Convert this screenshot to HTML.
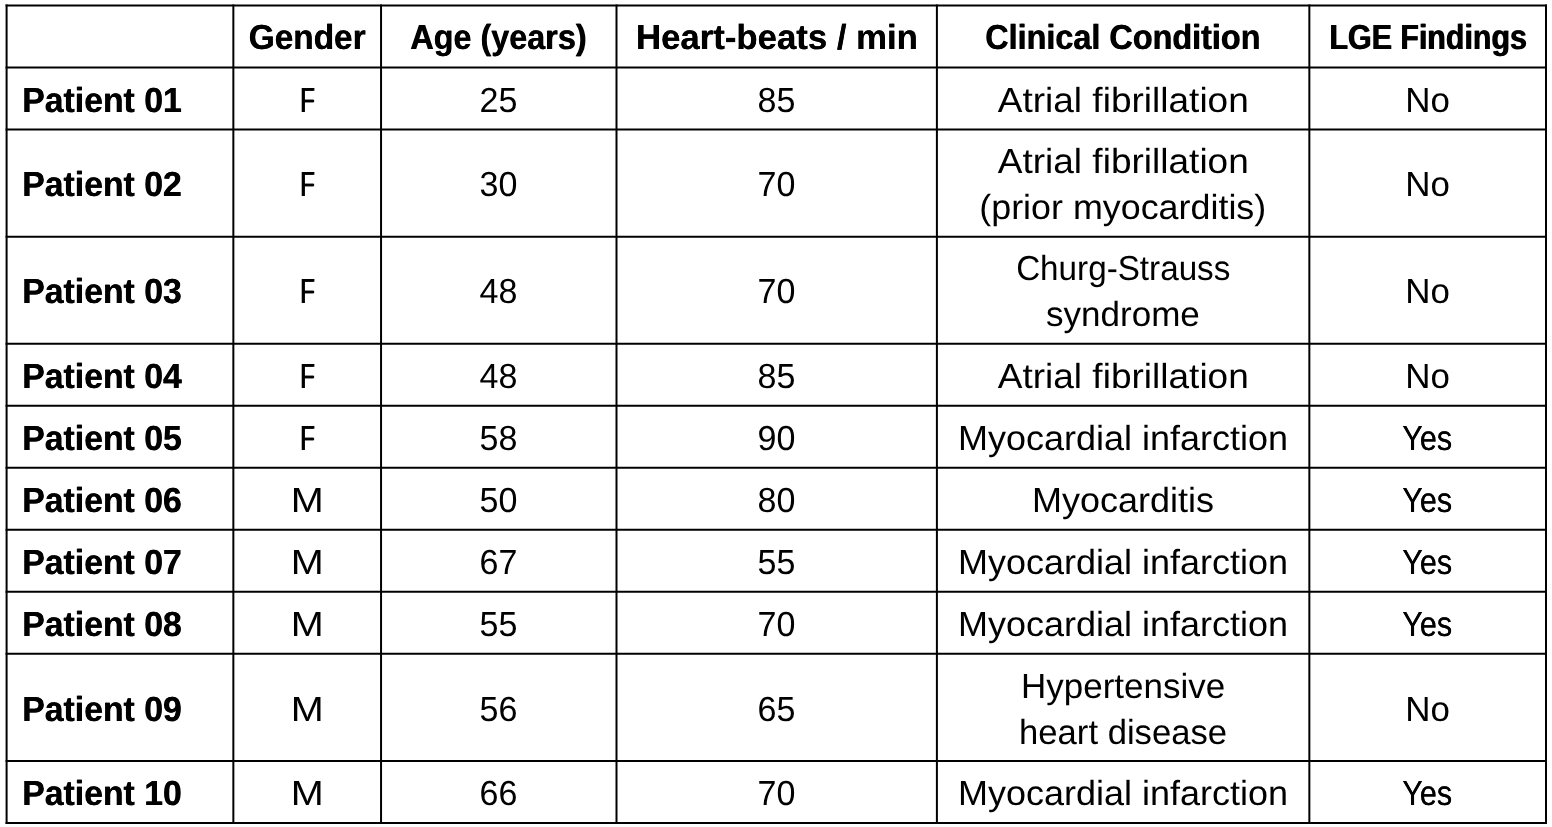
<!DOCTYPE html>
<html lang="en">
<head>
<meta charset="utf-8">
<title>Patient characteristics</title>
<style>
html,body{margin:0;padding:0;background:#fff;}
body{width:1552px;height:827px;position:relative;overflow:hidden;
 font-family:"Liberation Sans","DejaVu Sans",sans-serif;color:#000;
 text-rendering:geometricPrecision;-webkit-font-smoothing:antialiased;}
#grid{position:absolute;left:0;top:0;width:1552px;height:827px;display:block;}
table{position:absolute;left:6.60px;top:5px;width:1539.40px;border-collapse:collapse;border-spacing:0;
 table-layout:fixed;font-size:34.75px;line-height:46px;}
td,th{padding:0;margin:0;text-align:center;vertical-align:top;font-weight:normal;white-space:nowrap;overflow:visible;}
th{font-weight:bold;}
th.p{text-align:left;padding-left:16.00px;}
tr>*{padding-top:10px;}
tr.b>*{padding-top:33px;}
tr.b>.two{padding-top:10px;}
.t{display:inline-block;transform-origin:50% 50%;}
th.p .t{transform-origin:0 50%;}
.l{display:block;}
.k1{transform:translateX(0.10px) scaleX(0.9611);text-shadow:0.56px 0 0 #000;}
.k2{transform:translateX(-0.51px) scaleX(0.9307);text-shadow:0.74px 0 0 #000;}
.k3{transform:translateX(-0.18px) scaleX(0.9997);text-shadow:0.35px 0 0 #000;}
.k4{transform:translateX(-0.14px) scaleX(0.9320);text-shadow:0.73px 0 0 #000;}
.k5{transform:translateX(-0.23px) scaleX(0.8735);text-shadow:1.10px 0 0 #000;}
.k6{transform:translateX(-0.96px) scaleX(0.9715);text-shadow:0.50px 0 0 #000;}
.k7{transform:translateX(-0.58px) scaleX(0.6889);text-shadow:1.47px 0 0 #000;}
.k8{transform:translateX(0.07px) scaleX(0.9798);}
.k9{transform:translateX(0.45px) scaleX(1.0658);}
.k10{transform:translateX(0.48px) scaleX(1.0051);}
.k11{transform:translateX(-0.27px) scaleX(1.0321);}
.k12{transform:translateX(0.22px) scaleX(0.9562);}
.k13{transform:translateX(-0.34px) scaleX(1.0075);}
.k14{transform:translateX(-0.32px) scaleX(1.0359);}
.k15{transform:translateX(-0.32px) scaleX(0.8779);text-shadow:0.49px 0 0 #000;}
.k16{transform:translateX(-0.24px) scaleX(1.1401);}
.k17{transform:translateX(0.22px) scaleX(1.0360);}
.k18{transform:translateX(-0.30px) scaleX(1.0060);}
.k19{transform:translateX(-0.28px) scaleX(0.9963);}
</style>
</head>
<body>
<table>
<colgroup>
<col style="width:226.75px">
<col style="width:147.70px">
<col style="width:235.45px">
<col style="width:320.40px">
<col style="width:372.45px">
<col style="width:236.65px">
</colgroup>
<thead>
<tr style="height:63px">
<th></th>
<th scope="col"><span class="t k1">Gender</span></th>
<th scope="col"><span class="t k2">Age (years)</span></th>
<th scope="col"><span class="t k3">Heart-beats / min</span></th>
<th scope="col"><span class="t k4">Clinical Condition</span></th>
<th scope="col"><span class="t k5">LGE Findings</span></th>
</tr>
</thead>
<tbody>
<tr style="height:61px">
<th class="p" scope="row"><span class="t k6">Patient 01</span></th>
<td><span class="t k7">F</span></td>
<td><span class="t k8">25</span></td>
<td><span class="t k8">85</span></td>
<td><span class="t k9">Atrial fibrillation</span></td>
<td><span class="t k10">No</span></td>
</tr>
<tr class="b" style="height:107px">
<th class="p" scope="row"><span class="t k6">Patient 02</span></th>
<td><span class="t k7">F</span></td>
<td><span class="t k8">30</span></td>
<td><span class="t k8">70</span></td>
<td class="two"><div class="l"><span class="t k9">Atrial fibrillation</span></div><div class="l"><span class="t k11">(prior myocarditis)</span></div></td>
<td><span class="t k10">No</span></td>
</tr>
<tr class="b" style="height:108px">
<th class="p" scope="row"><span class="t k6">Patient 03</span></th>
<td><span class="t k7">F</span></td>
<td><span class="t k8">48</span></td>
<td><span class="t k8">70</span></td>
<td class="two"><div class="l"><span class="t k12">Churg-Strauss</span></div><div class="l"><span class="t k13">syndrome</span></div></td>
<td><span class="t k10">No</span></td>
</tr>
<tr style="height:62px">
<th class="p" scope="row"><span class="t k6">Patient 04</span></th>
<td><span class="t k7">F</span></td>
<td><span class="t k8">48</span></td>
<td><span class="t k8">85</span></td>
<td><span class="t k9">Atrial fibrillation</span></td>
<td><span class="t k10">No</span></td>
</tr>
<tr style="height:62px">
<th class="p" scope="row"><span class="t k6">Patient 05</span></th>
<td><span class="t k7">F</span></td>
<td><span class="t k8">58</span></td>
<td><span class="t k8">90</span></td>
<td><span class="t k14">Myocardial infarction</span></td>
<td><span class="t k15">Yes</span></td>
</tr>
<tr style="height:62px">
<th class="p" scope="row"><span class="t k6">Patient 06</span></th>
<td><span class="t k16">M</span></td>
<td><span class="t k8">50</span></td>
<td><span class="t k8">80</span></td>
<td><span class="t k17">Myocarditis</span></td>
<td><span class="t k15">Yes</span></td>
</tr>
<tr style="height:62px">
<th class="p" scope="row"><span class="t k6">Patient 07</span></th>
<td><span class="t k16">M</span></td>
<td><span class="t k8">67</span></td>
<td><span class="t k8">55</span></td>
<td><span class="t k14">Myocardial infarction</span></td>
<td><span class="t k15">Yes</span></td>
</tr>
<tr style="height:62px">
<th class="p" scope="row"><span class="t k6">Patient 08</span></th>
<td><span class="t k16">M</span></td>
<td><span class="t k8">55</span></td>
<td><span class="t k8">70</span></td>
<td><span class="t k14">Myocardial infarction</span></td>
<td><span class="t k15">Yes</span></td>
</tr>
<tr class="b" style="height:107px">
<th class="p" scope="row"><span class="t k6">Patient 09</span></th>
<td><span class="t k16">M</span></td>
<td><span class="t k8">56</span></td>
<td><span class="t k8">65</span></td>
<td class="two"><div class="l"><span class="t k18">Hypertensive</span></div><div class="l"><span class="t k19">heart disease</span></div></td>
<td><span class="t k10">No</span></td>
</tr>
<tr style="height:62px">
<th class="p" scope="row"><span class="t k6">Patient 10</span></th>
<td><span class="t k16">M</span></td>
<td><span class="t k8">66</span></td>
<td><span class="t k8">70</span></td>
<td><span class="t k14">Myocardial infarction</span></td>
<td><span class="t k15">Yes</span></td>
</tr>
</tbody>
</table>
<svg id="grid" width="1552" height="827" viewBox="0 0 1552 827" aria-hidden="true">
<g stroke="#000" stroke-width="2.00" fill="none" stroke-linecap="square">
<line x1="6.600" y1="5.500" x2="1546.000" y2="5.500"/>
<line x1="6.600" y1="67.500" x2="1546.000" y2="67.500"/>
<line x1="6.600" y1="129.500" x2="1546.000" y2="129.500"/>
<line x1="6.600" y1="236.625" x2="1546.000" y2="236.625"/>
<line x1="6.600" y1="343.750" x2="1546.000" y2="343.750"/>
<line x1="6.600" y1="405.750" x2="1546.000" y2="405.750"/>
<line x1="6.600" y1="467.750" x2="1546.000" y2="467.750"/>
<line x1="6.600" y1="529.750" x2="1546.000" y2="529.750"/>
<line x1="6.600" y1="591.750" x2="1546.000" y2="591.750"/>
<line x1="6.600" y1="653.750" x2="1546.000" y2="653.750"/>
<line x1="6.600" y1="760.875" x2="1546.000" y2="760.875"/>
<line x1="6.600" y1="822.875" x2="1546.000" y2="822.875"/>
<line x1="6.600" y1="5.500" x2="6.600" y2="822.875"/>
<line x1="233.350" y1="5.500" x2="233.350" y2="822.875"/>
<line x1="381.050" y1="5.500" x2="381.050" y2="822.875"/>
<line x1="616.500" y1="5.500" x2="616.500" y2="822.875"/>
<line x1="936.900" y1="5.500" x2="936.900" y2="822.875"/>
<line x1="1309.350" y1="5.500" x2="1309.350" y2="822.875"/>
<line x1="1546.000" y1="5.500" x2="1546.000" y2="822.875"/>
</g>
</svg>
</body>
</html>
